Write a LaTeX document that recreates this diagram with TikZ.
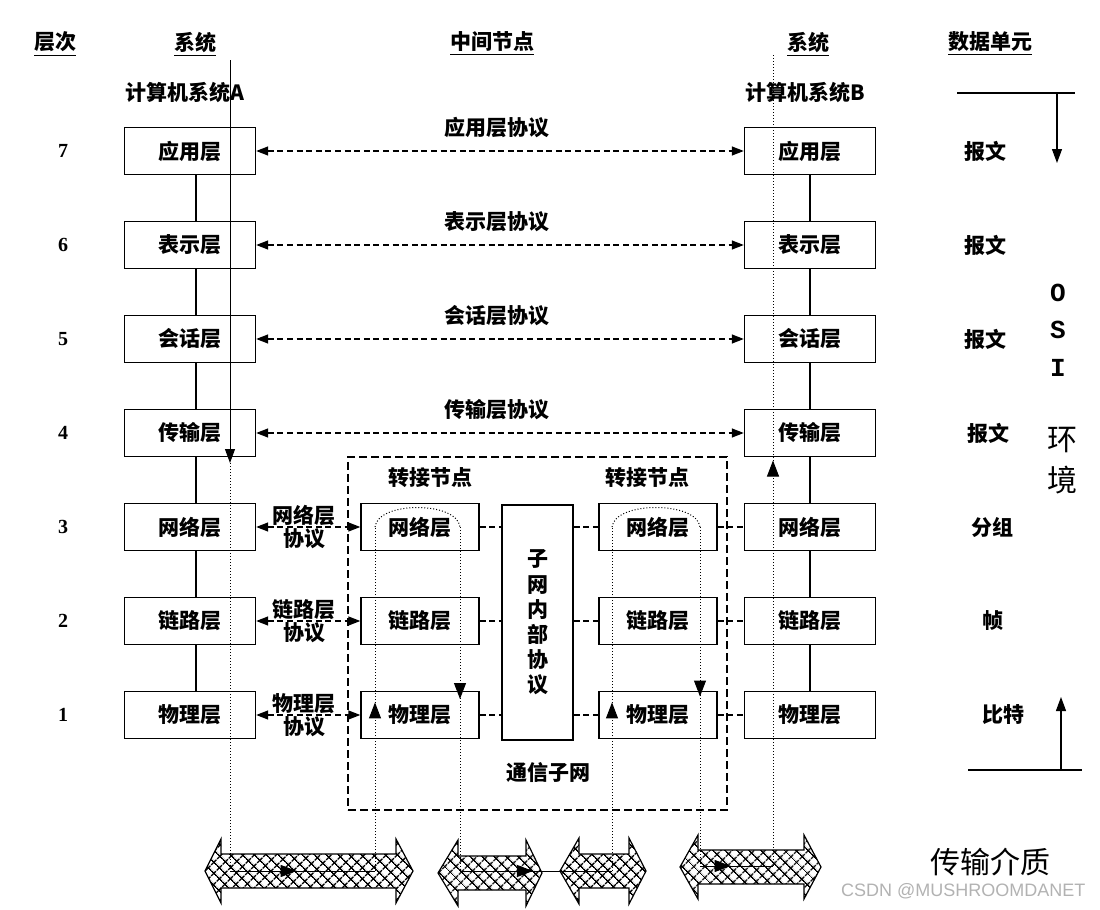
\documentclass[tikz,border=0pt]{standalone}
\usepackage{fontspec}
\setmainfont{Noto Sans CJK SC}
\newfontfamily\numfont{Liberation Serif}
\newfontfamily\osifont{Liberation Mono}
\newfontfamily\markfont{Liberation Sans}
\usetikzlibrary{arrows.meta,patterns.meta,decorations.markings}
\tikzset{
  osi box/.style={draw,line width=.7pt,minimum width=65.5pt,minimum height=23.5pt,inner sep=0pt},
  relay box/.style={osi box,minimum width=59pt},
  osi link/.style={line width=.6pt},
  osi proto/.style={line width=.7pt,dash pattern=on 3pt off 1.8pt,{Triangle[length=6pt,width=4.5pt]}-{Triangle[length=6pt,width=4.5pt]}},
  osi dash/.style={line width=.7pt,dash pattern=on 3pt off 1.8pt},
  osi frame/.style={draw,line width=1pt,dash pattern=on 4pt off 2pt},
  osi path/.style={line width=.5pt,densely dotted},
  osi flow/.style={line width=.5pt},
  mid tip/.style={postaction=decorate,decoration={markings,mark=at position #1 with {\arrow{Triangle[length=8pt,width=6pt]}}}},
  osi medium/.style={draw,line width=.6pt,pattern={Hatch[angle=45,distance=4pt,line width=.8pt]}},
  osi tip/.style={-{Triangle[length=7pt,width=5pt]}},
  layer num/.style={font=\numfont\bfseries\fontsize{10}{12}\selectfont},
  big label/.style={font=\mdseries\fontsize{15}{18}\selectfont}
}
\begin{document}
\begin{tikzpicture}[x=.5pt,y=-.5pt,font=\bfseries\fontsize{10.5}{12.6}\selectfont]
  \useasboundingbox (0,0) rectangle (1100,910);
  % headings
  \node (hLayer) at (55,44) {\underline{层次}};
  \node (hSysA) at (195,44) {\underline{系统}};
  \node (hMid) at (492,44) {\underline{中间节点}};
  \node (hSysB) at (808,44) {\underline{系统}};
  \node (hUnit) at (990,44) {\underline{数据单元}};
  \node (sysA) at (185,92) {计算机系统A};
  \node (sysB) at (805,92) {计算机系统B};
  % transmission media
  \foreach \l/\hl/\hr/\r/\yc/\bh/\hh in {205/221/396/413/871/17/32,438/458/526/542/873/17/33,560/579/629/646/871/17/33,680/698/804/821/867/17/32}{
    \draw[osi medium] (\l,\yc)--(\hl,{\yc-\hh})--(\hl,{\yc-\bh})--(\hr,{\yc-\bh})--(\hr,{\yc-\hh})--(\r,\yc)
      --(\hr,{\yc+\hh})--(\hr,{\yc+\bh})--(\hl,{\yc+\bh})--(\hl,{\yc+\hh})--cycle;
  }
  % subnet frame
  \node[osi frame,minimum width=189.5pt,minimum height=176.5pt] (net) at (537.5,633.5) {};
  \node (relayA) at (430,478) {转接节点};
  \node (relayB) at (647,478) {转接节点};
  \node (netName) at (548,773) {通信子网};
  \node[draw,line width=.7pt,minimum width=35.5pt,minimum height=117.5pt,inner sep=0pt,align=center] (sub) at (537.5,622.5) {子\\网\\内\\部\\协\\议};
  % layers of both systems
  \foreach \n/\t in {7/应用层,6/表示层,5/会话层,4/传输层,3/网络层,2/链路层,1/物理层}{
    \node[osi box] (a\n) at (190,{151+94*(7-\n)}) {\t};
    \node[osi box] (b\n) at (810,{151+94*(7-\n)}) {\t};
    \node[layer num] (n\n) at (63,{151+94*(7-\n)}) {\n};
  }
  \foreach \u/\l in {7/6,6/5,5/4,4/3,3/2,2/1}{
    \draw[osi link] ([xshift=3pt]a\u.south) -- ([xshift=3pt]a\l.north);
    \draw[osi link] (b\u) -- (b\l);
  }
  % peer protocols
  \foreach \n/\t in {7/应用层,6/表示层,5/会话层,4/传输层}{
    \node (p\n) at (497,{128+94*(7-\n)}) {\t 协议};
    \draw[osi proto] (a\n) -- (b\n);
  }
  \foreach \n/\t in {3/网络层,2/链路层,1/物理层}{
    \node[relay box] (r\n) at (420,{151+94*(7-\n)}) {\t};
    \node[relay box] (s\n) at (658,{151+94*(7-\n)}) {\t};
    \draw[osi proto] (a\n) -- (r\n);
    \node[align=center,font=\bfseries\fontsize{10.5}{11.5}\selectfont] (p\n) at (304,{151+94*(7-\n)}) {\t\\协议};
    \draw[osi dash] (r\n) -- (r\n -| sub.west);
    \draw[osi dash] (r\n -| sub.east) -- (s\n);
    \draw[osi dash] (s\n) -- (b\n);
  }
  % data path
  \coordinate (ta) at (230,60);
  \coordinate (ka) at (230,463);
  \coordinate (ga) at (230,871);
  \coordinate (g1) at (375,871);
  \coordinate (u1) at (375,527);
  \coordinate (u2) at (460,527);
  \coordinate (g2) at (460,871);
  \coordinate (g3) at (612,871);
  \coordinate (v1) at (612,527);
  \coordinate (v2) at (700,527);
  \coordinate (g4) at (700,866);
  \coordinate (gb) at (773,866);
  \coordinate (tb) at (773,55);
  \draw[osi flow,osi tip] (ta) -- (ka);
  \draw[osi path] (ka) -- (ga);
  \draw[osi flow,mid tip=.46] (ga) -- (g1);
  \draw[osi path,mid tip=.49] (g1) -- (u1);
  \draw[osi path] (u1) .. controls (378,501) and (457,501) .. (u2);
  \draw[osi path,mid tip=.5] (u2) -- (g2);
  \draw[osi flow,mid tip=.48] (g2) -- (g3);
  \draw[osi path,mid tip=.49] (g3) -- (v1);
  \draw[osi path] (v1) .. controls (615,501) and (697,501) .. (v2);
  \draw[osi path,mid tip=.5] (v2) -- (g4);
  \draw[osi flow,mid tip=.42] (g4) -- (gb);
  \draw[osi path,mid tip=.5] (gb) -- (tb);
  % data units
  \foreach \n/\t/\x in {7/报文/985,6/报文/985,5/报文/985,4/报文/988,3/分组/992,2/帧/993,1/比特/1003}{
    \node (d\n) at (\x,{151+94*(7-\n)}) {\t};
  }
  \coordinate (du1) at (957,93);
  \coordinate (du2) at (1075,93);
  \coordinate (dut) at (1057,93);
  \coordinate (duh) at (1057,163);
  \coordinate (dl1) at (968,770);
  \coordinate (dl2) at (1082,770);
  \coordinate (dlt) at (1061,770);
  \coordinate (dlh) at (1061,697);
  \draw[osi link] (du1) -- (du2);
  \draw[osi link,osi tip] (dut) -- (duh);
  \draw[osi link] (dl1) -- (dl2);
  \draw[osi link,osi tip] (dlt) -- (dlh);
  \foreach \c/\y in {O/293,S/330,I/368}{
    \node[font=\osifont\bfseries\fontsize{13}{13}\selectfont] (osi\c) at (1058,\y) {\c};
  }
  \node[big label] (env1) at (1062,440) {环};
  \node[big label] (env2) at (1062,480) {境};
  \node[big label] (media) at (990,862) {传输介质};
  \node[font=\markfont\fontsize{9}{11}\selectfont,text=gray!60,anchor=west] (mark) at (834,891) {CSDN @MUSHROOMDANET};
\end{tikzpicture}
\end{document}
